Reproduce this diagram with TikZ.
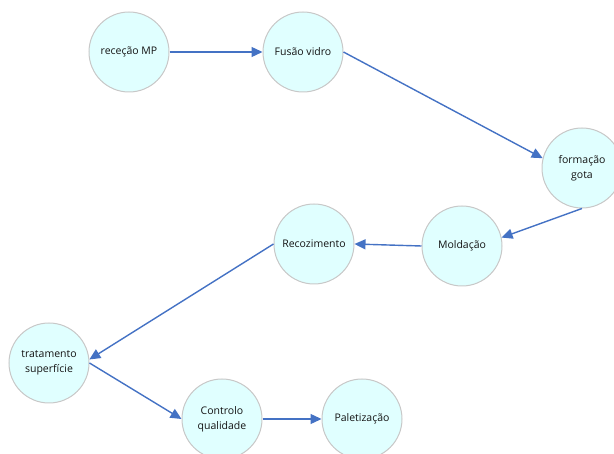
\documentclass[tikz,border=0pt]{standalone}
\usepackage{fontspec}
\setmainfont{Open Sans}
\usepackage{tikz}
\usetikzlibrary{arrows.meta}
\usepackage{xcolor}
\definecolor{stepfill}{HTML}{E0FFFF}
\definecolor{stepline}{HTML}{C8C8C8}
\definecolor{flowblue}{HTML}{4472C4}
\definecolor{steptext}{HTML}{141414}

\begin{document}
\begin{tikzpicture}[x=1pt, y=-1pt,
	stepnode/.style={circle, draw=stepline, line width=1pt, fill=stepfill, minimum size=80pt, inner sep=0pt, align=center, font=\fontsize{10.5}{15}\selectfont, text=steptext},
	flow/.style={draw=flowblue, line width=1.4pt, -{Triangle[length=11pt,width=10pt]}}]
	\useasboundingbox (0,0) rectangle (614,454);
	\node[stepnode] (rececao) at (129,52) {receção MP};
	\node[stepnode] (fusao) at (303,52) {Fusão vidro};
	\node[stepnode] (formacao) at (582,168) {formação\\gota};
	\node[stepnode] (moldacao) at (462,246) {Moldação};
	\node[stepnode] (recozimento) at (314,244) {Recozimento};
	\node[stepnode] (tratamento) at (49,363) {tratamento\\superfície};
	\node[stepnode] (controlo) at (222,419) {Controlo\\qualidade};
	\node[stepnode] (paletizacao) at (362,419) {Paletização};
	\draw[flow] (rececao.east) -- (fusao.west);
	\draw[flow] (fusao.east) -- (formacao.166);
	\draw[flow] (formacao.south) -- (moldacao.12);
	\draw[flow] (moldacao.west) -- (recozimento.east);
	\draw[flow] (recozimento.west) -- (tratamento.5);
	\draw[flow] (tratamento.east) -- (controlo.west);
	\draw[flow] (controlo.east) -- (paletizacao.west);
\end{tikzpicture}
\end{document}
